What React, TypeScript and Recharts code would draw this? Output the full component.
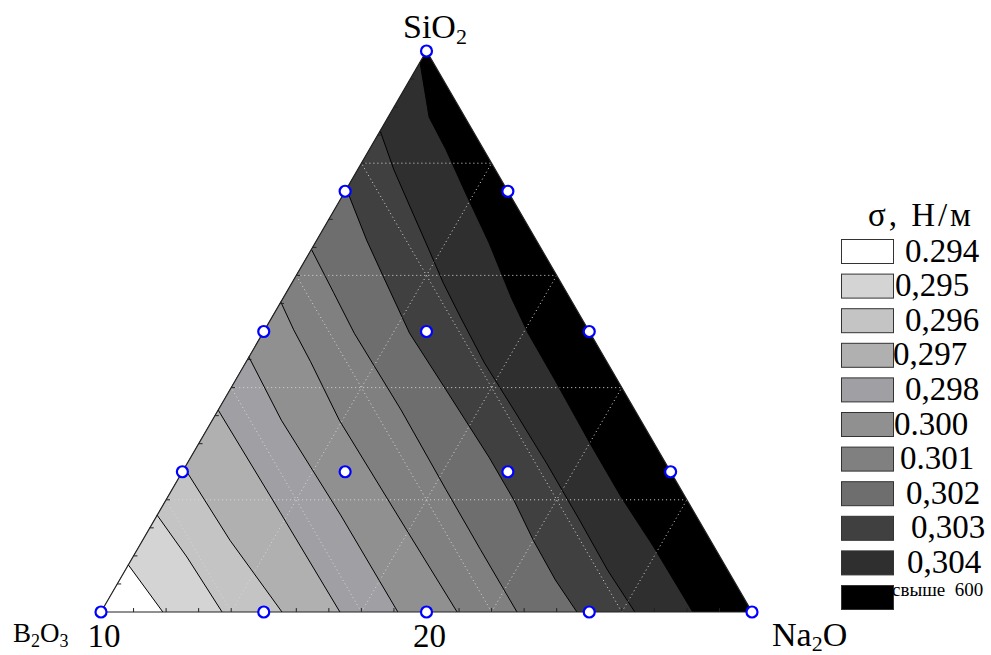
import { ComposedChart, Area, Line, Scatter, XAxis, YAxis, ReferenceLine } from "recharts";

type Pt = { x: number; y: number };

// x = Na2O + SiO2/2, y = SiO2 (fractions of the triangle)
const legendLabels = ["0.294", "0,295", "0,296", "0,297", "0,298", "0.300", "0.301", "0,302", "0,303", "0,304", "свыше  600"];
const legendLabelX = [905, 895, 905, 893, 905, 894, 900, 906, 911, 907, 892];
const bandColors = ["#ffffff", "#d4d4d4", "#c4c4c4", "#b0b0b0", "#a0a0a4", "#909090", "#808080", "#6e6e6e", "#404040", "#2f2f2f", "#000000"];

const contour1: Pt[] = [{ x: 0.042, y: 0.084 }, { x: 0.095, y: 0 }];
const contour2: Pt[] = [{ x: 0.086, y: 0.173 }, { x: 0.132, y: 0.098 }, { x: 0.186, y: 0 }];
const contour3: Pt[] = [{ x: 0.128, y: 0.257 }, { x: 0.198, y: 0.128 }, { x: 0.278, y: 0 }];
const contour4: Pt[] = [{ x: 0.18, y: 0.36 }, { x: 0.275, y: 0.178 }, { x: 0.367, y: 0 }];
const contour5: Pt[] = [{ x: 0.227, y: 0.455 }, { x: 0.277, y: 0.342 }, { x: 0.368, y: 0.173 }, { x: 0.456, y: 0 }];
const contour6: Pt[] = [
  { x: 0.276, y: 0.553 }, { x: 0.296, y: 0.503 }, { x: 0.322, y: 0.446 }, { x: 0.366, y: 0.342 },
  { x: 0.46, y: 0.164 }, { x: 0.547, y: 0 },
];
const contour7: Pt[] = [
  { x: 0.323, y: 0.647 }, { x: 0.357, y: 0.57 }, { x: 0.389, y: 0.497 }, { x: 0.461, y: 0.36 },
  { x: 0.53, y: 0.218 }, { x: 0.583, y: 0.111 }, { x: 0.639, y: 0 },
];
const contour8: Pt[] = [
  { x: 0.377, y: 0.754 }, { x: 0.408, y: 0.663 }, { x: 0.434, y: 0.597 }, { x: 0.474, y: 0.497 },
  { x: 0.53, y: 0.396 }, { x: 0.596, y: 0.276 }, { x: 0.634, y: 0.2 }, { x: 0.664, y: 0.128 },
  { x: 0.698, y: 0.057 }, { x: 0.731, y: 0 },
];
const contour9: Pt[] = [
  { x: 0.429, y: 0.857 }, { x: 0.45, y: 0.788 }, { x: 0.479, y: 0.711 }, { x: 0.504, y: 0.645 },
  { x: 0.526, y: 0.586 }, { x: 0.552, y: 0.526 }, { x: 0.589, y: 0.444 }, { x: 0.637, y: 0.355 },
  { x: 0.684, y: 0.266 }, { x: 0.735, y: 0.164 }, { x: 0.778, y: 0.075 }, { x: 0.82, y: 0 },
];
const contour10: Pt[] = [
  { x: 0.49, y: 0.98 }, { x: 0.504, y: 0.882 }, { x: 0.53, y: 0.824 }, { x: 0.558, y: 0.752 },
  { x: 0.596, y: 0.658 }, { x: 0.63, y: 0.561 }, { x: 0.656, y: 0.497 }, { x: 0.697, y: 0.414 },
  { x: 0.751, y: 0.301 }, { x: 0.799, y: 0.205 }, { x: 0.849, y: 0.116 }, { x: 0.909, y: 0 },
];
const contours = [contour1, contour2, contour3, contour4, contour5, contour6, contour7, contour8, contour9, contour10];

const triangle: Pt[] = [{ x: 0, y: 0 }, { x: 0.5, y: 1 }, { x: 1, y: 0 }];
const samplePoints: Pt[] = [
  { x: 0, y: 0 }, { x: 0.25, y: 0 }, { x: 0.5, y: 0 }, { x: 0.75, y: 0 }, { x: 1, y: 0 },
  { x: 0.125, y: 0.25 }, { x: 0.25, y: 0.5 }, { x: 0.375, y: 0.75 }, { x: 0.5, y: 1 },
  { x: 0.875, y: 0.25 }, { x: 0.75, y: 0.5 }, { x: 0.625, y: 0.75 },
  { x: 0.375, y: 0.25 }, { x: 0.5, y: 0.5 }, { x: 0.625, y: 0.25 },
];
const gridFractions = [0.2, 0.4, 0.6, 0.8];
const axisTicks = [0, 0.5];
const axisTickLabels = ["10", "20"];
const edgeTickStep = 0.05;

const W = 991;
const H = 655;
const serif = "'Liberation Serif', 'Times New Roman', serif";

const gridSegments = gridFractions.flatMap((f) => [
  [{ x: f / 2, y: f }, { x: 1 - f / 2, y: f }],
  [{ x: f, y: 0 }, { x: (1 + f) / 2, y: 1 - f }],
  [{ x: f, y: 0 }, { x: f / 2, y: f }],
]);

const edgeTicks: Pt[][] = [];
for (let i = 1; i < Math.round(1 / edgeTickStep); i++) {
  const t = i * edgeTickStep;
  edgeTicks.push([{ x: t, y: 0 }, { x: t, y: 0.007 }]);
  edgeTicks.push([{ x: t / 2, y: t }, { x: t / 2 + 0.006, y: t }]);
}

function Marker(props: any) {
  const { cx, cy } = props;
  return <circle cx={cx} cy={cy} r={5.5} fill="#ffffff" stroke="#0000ff" strokeWidth={2.2} />;
}

function Legend() {
  const top0 = 239;
  const pitch = 34.6;
  return (
    <g>
      <text x={868} y={226} fontFamily={serif} fontSize={33} textLength={103} lengthAdjust="spacing">
        σ, Н/м
      </text>
      {legendLabels.map((label, i) => {
        const top = top0 + i * pitch;
        const last = i === legendLabels.length - 1;
        return (
          <g key={label}>
            <rect x={841.5} y={top + 0.5} width={52} height={24} fill={bandColors[i]} stroke="#333333" strokeWidth={1} />
            {last ? (
              <text x={legendLabelX[i]} y={top + 11} fontFamily={serif} fontSize={19} style={{ whiteSpace: "pre" }}>
                {label}
              </text>
            ) : (
              <text x={legendLabelX[i]} y={top + 22.5} fontFamily={serif} fontSize={33}>
                {label}
              </text>
            )}
          </g>
        );
      })}
    </g>
  );
}

export default function App() {
  return (
    <div style={{ position: "absolute", left: 0, top: 0, width: W, height: H, background: "#fff" }}>
      <ComposedChart width={W} height={H} margin={{ top: 51, left: 101, right: 239, bottom: 13 }}>
        <XAxis
          type="number"
          dataKey="x"
          domain={[0, 1]}
          ticks={axisTicks}
          tickFormatter={(v: number) => axisTickLabels[axisTicks.indexOf(v)] ?? ""}
          axisLine={false}
          tickLine={false}
          tickMargin={6}
          height={30}
          tick={{ fontSize: 33, fill: "#000", fontFamily: serif, dx: 3 }}
        />
        <YAxis type="number" dataKey="y" domain={[0, 1]} hide />
        <Area
          data={triangle}
          dataKey="y"
          type="linear"
          fill={bandColors[10]}
          fillOpacity={1}
          stroke="none"
          isAnimationActive={false}
        />
        {contours
          .map((c, k) => ({ c, k }))
          .reverse()
          .map(({ c, k }) => (
            <Area
              key={"band" + k}
              data={[{ x: 0, y: 0 }, ...c]}
              dataKey="y"
              type="linear"
              fill={bandColors[k]}
              fillOpacity={1}
              stroke="none"
              isAnimationActive={false}
            />
          ))}
        {gridSegments.map((s, i) => (
          <ReferenceLine key={"g" + i} segment={s} stroke="#d8d8d8" strokeWidth={1} strokeDasharray="1 3" />
        ))}
        {contours.map((c, k) => (
          <Line
            key={"c" + k}
            data={c}
            dataKey="y"
            type="linear"
            stroke="#000"
            strokeWidth={1}
            dot={false}
            activeDot={false}
            isAnimationActive={false}
          />
        ))}
        <Line
          data={[...triangle, triangle[0]]}
          dataKey="y"
          type="linear"
          stroke="#222"
          strokeWidth={1.2}
          dot={false}
          activeDot={false}
          isAnimationActive={false}
        />
        {edgeTicks.map((s, i) => (
          <ReferenceLine key={"t" + i} segment={s} stroke="#222" strokeWidth={1} />
        ))}
        <Scatter data={samplePoints} shape={Marker} isAnimationActive={false} />
      </ComposedChart>
      <svg width={W} height={H} style={{ position: "absolute", left: 0, top: 0, pointerEvents: "none" }}>
        <text x={403} y={38} fontFamily={serif} fontSize={34}>
          SiO<tspan fontSize={22} dy={6}>2</tspan>
        </text>
        <text x={13} y={642} fontFamily={serif} fontSize={27}>
          B<tspan fontSize={18} dy={5}>2</tspan>
          <tspan dy={-5}>O</tspan>
          <tspan fontSize={18} dy={5}>3</tspan>
        </text>
        <text x={772} y={646} fontFamily={serif} fontSize={34}>
          Na<tspan fontSize={22} dy={5}>2</tspan>
          <tspan dy={-5}>O</tspan>
        </text>
        <Legend />
      </svg>
    </div>
  );
}
